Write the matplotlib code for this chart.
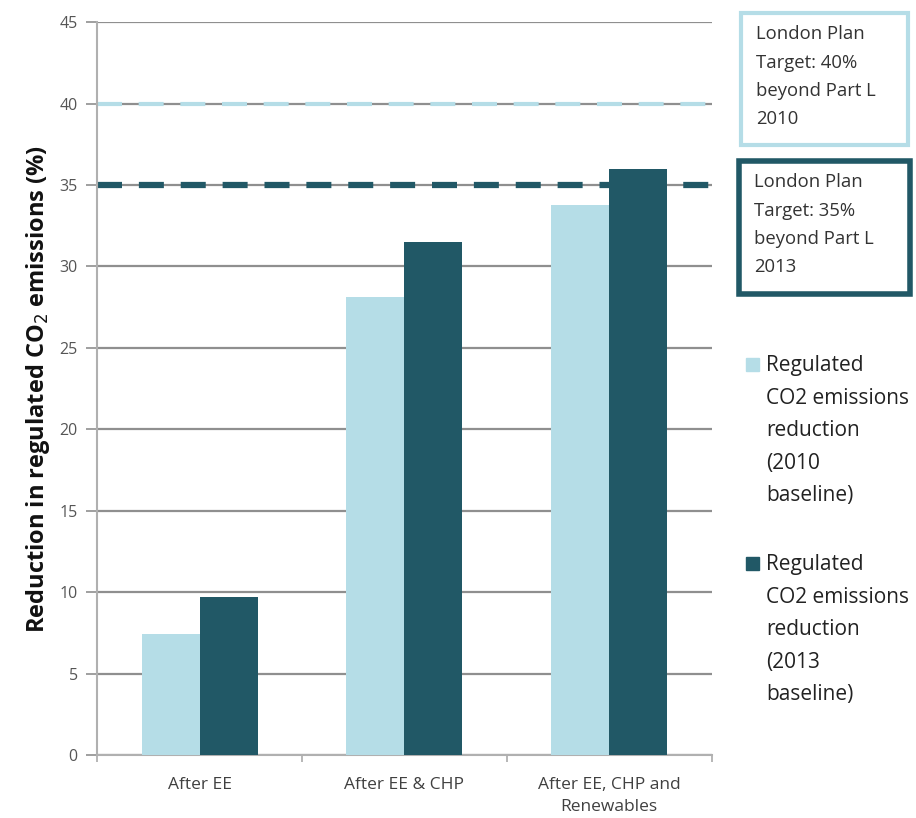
import matplotlib
matplotlib.use("Agg")
import matplotlib.pyplot as plt
from matplotlib.patches import Rectangle
import numpy as np

plt.rcParams['font.family'] = ['Open Sans', 'DejaVu Sans']

categories = ["After EE", "After EE & CHP", "After EE, CHP and\nRenewables"]
series_2010 = [7.4, 28.1, 33.8]
series_2013 = [9.7, 31.5, 36.0]
series_labels = ["Regulated\nCO2 emissions\nreduction\n(2010\nbaseline)",
                 "Regulated\nCO2 emissions\nreduction\n(2013\nbaseline)"]
target_2010 = 40
target_2013 = 35
target_labels = ["London Plan\nTarget: 40%\nbeyond Part L\n2010",
                 "London Plan\nTarget: 35%\nbeyond Part L\n2013"]
yticks = [0, 5, 10, 15, 20, 25, 30, 35, 40, 45]

light = "#b5dde7"
dark = "#215866"
grid_c = "#8f8f8f"
text_c = "#404040"

fig = plt.figure(figsize=(9.16, 8.18), dpi=100)
ax = fig.add_axes([0.106, 0.077, 0.671, 0.896])

x = np.arange(len(categories))
w = 0.283
ax.bar(x - w / 2, series_2010, width=w, color=light, zorder=3)
ax.bar(x + w / 2, series_2013, width=w, color=dark, zorder=3)

ax.set_xlim(-0.5, len(categories) - 0.5)
ax.set_ylim(0, 45)
ax.set_yticks(yticks)
for t in yticks:
    ax.axhline(t, color=grid_c, lw=1.6, zorder=1)
ax.axhline(target_2010, color=light, lw=3, ls=(0, (6, 4)), zorder=2)
ax.axhline(target_2013, color=dark, lw=4.5, ls=(0, (4, 2.7)), zorder=2)

ax.set_xticks(x)
ax.set_xticklabels(categories, fontsize=12.5, color=text_c, linespacing=1.45)
ax.set_xticks(np.arange(-0.5, len(categories), 1), minor=True)
ax.tick_params(axis='x', which='major', length=0, pad=16)
ax.tick_params(axis='x', which='minor', length=5, color="#aaaaaa", width=1.2)
ax.tick_params(axis='y', length=8, color=grid_c, width=1.2, labelsize=11.5,
               labelcolor="#555555", pad=6)
for s in ["top", "right"]:
    ax.spines[s].set_visible(False)
ax.spines["left"].set_color("#b0b0b0")
ax.spines["left"].set_linewidth(1.5)
ax.spines["bottom"].set_color("#b0b0b0")
ax.spines["bottom"].set_linewidth(1.5)

ax.set_ylabel("Reduction in regulated CO$_2$ emissions (%)", fontsize=17,
              fontweight="bold", color="#111111")
ax.yaxis.set_label_coords(-0.074, 0.5)

W, H = 916, 818
def fx(px):
    return px / W
def fy(py):
    return 1 - py / H

# target boxes
boxes = [(741, 13, 167, 132, light, 3), (739, 161, 171, 133, dark, 4)]
for (bx, by, bw, bh, col, lw), lab in zip(boxes, target_labels):
    fig.add_artist(Rectangle((fx(bx), fy(by + bh)), bw / W, bh / H,
                             transform=fig.transFigure, fill=False,
                             edgecolor=col, linewidth=lw))
    fig.text(fx(bx + 15), fy(by + 12), lab, ha="left", va="top", fontsize=13.3,
             color="#333333", linespacing=1.75)

# legend
for (ly, col), lab in zip([(358, light), (557, dark)], series_labels):
    fig.add_artist(Rectangle((fx(746), fy(ly + 13)), 13 / W, 13 / H,
                             transform=fig.transFigure, color=col))
    fig.text(fx(766), fy(ly - 3), lab, ha="left", va="top", fontsize=15,
             color="#222222", linespacing=1.72)

fig.savefig("out.png", dpi=100)
